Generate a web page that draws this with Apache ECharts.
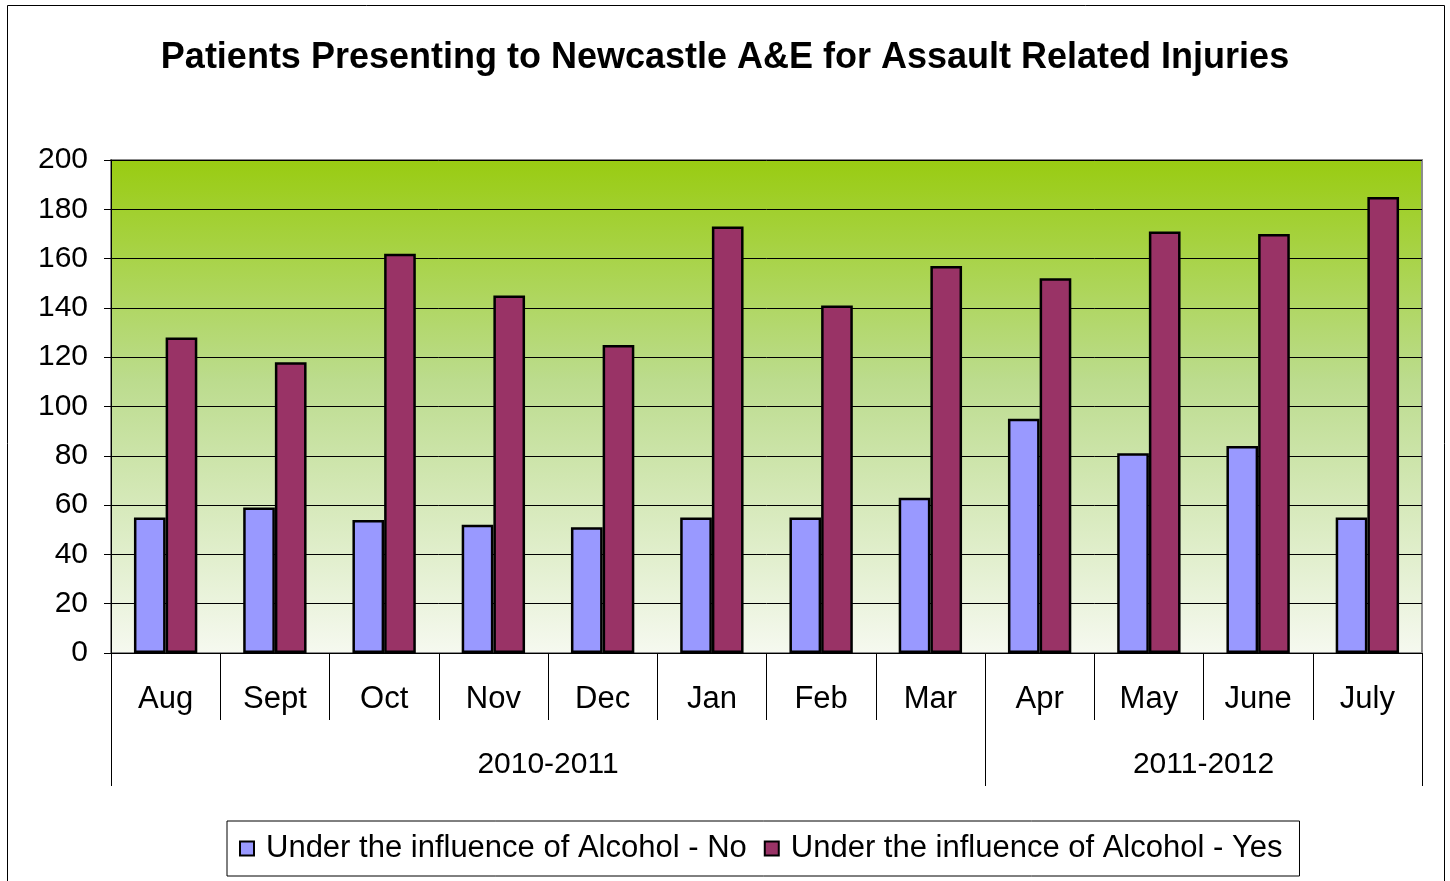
<!DOCTYPE html>
<html>
<head>
<meta charset="utf-8">
<title>Patients Presenting to Newcastle A&amp;E for Assault Related Injuries</title>
<script src="https://cdn.jsdelivr.net/npm/echarts@6/dist/echarts.min.js"></script>
<style>
  html, body { margin: 0; padding: 0; background: #fff; }
  #chart { width: 1450px; height: 881px; }
</style>
</head>
<body>
<div id="chart"></div>
<script>
// Monthly categories and the financial years they belong to
const months = ['Aug', 'Sept', 'Oct', 'Nov', 'Dec', 'Jan', 'Feb', 'Mar', 'Apr', 'May', 'June', 'July'];
const yearLabels = ['2010-2011', '2011-2012'];
const yearSpans = [8, 4]; // number of months in each year group

// Patient counts
const alcoholNo  = [55, 59, 54, 52, 51, 55, 55, 63, 95, 81, 84, 55];
const alcoholYes = [128, 118, 162, 145, 125, 173, 141, 157, 152, 171, 170, 185];

const seriesNames = ['Under the influence of Alcohol - No', 'Under the influence of Alcohol - Yes'];

// y-axis scale
const yMin = 0, yMax = 200, yStep = 20;

// Build a half-month slot axis for the year grouping row:
// slots lie on month boundaries and month centres, so group edges and centres
// can both be addressed.
const slotCount = months.length * 2 + 1;
const yearSlots = new Array(slotCount).fill('');
const yearEdges = new Set([0]);
let start = 0;
yearLabels.forEach((label, i) => {
  const end = start + yearSpans[i];
  yearSlots[start + end] = label;      // centre of the group, in half-months
  yearEdges.add(end * 2);
  start = end;
});

const FONT = "'Liberation Sans', Arial, sans-serif";

const chart = echarts.init(document.getElementById('chart'), null, { renderer: 'canvas' });

chart.setOption({
  animation: false,
  textStyle: { fontFamily: FONT, color: '#000' },
  title: {
    text: 'Patients Presenting to Newcastle A&E for Assault Related Injuries',
    left: 'center',
    top: 35,
    textStyle: { fontFamily: FONT, fontSize: 36, fontWeight: 'bold', color: '#000' }
  },
  graphic: [{
    type: 'rect',
    shape: { x: 7.5, y: 5.5, width: 1437, height: 885 },
    style: { fill: 'none', stroke: '#000', lineWidth: 1 },
    silent: true,
    z: -10
  }],
  legend: {
    data: seriesNames,
    left: 227,
    top: 821,
    orient: 'horizontal',
    icon: 'rect',
    itemWidth: 14,
    itemHeight: 14,
    itemGap: 17,
    padding: [12, 17, 12, 12],
    borderColor: '#000',
    borderWidth: 1,
    textStyle: { fontFamily: FONT, fontSize: 31, color: '#000', padding: [0, 0, 0, 7] }
  },
  grid: {
    left: 111,
    right: 28,
    top: 160,
    bottom: 228,
    show: true,
    borderColor: '#8c8c8c',
    borderWidth: 2,
    backgroundColor: new echarts.graphic.LinearGradient(0, 0, 0, 1, [
      { offset: 0, color: '#99cc11' },
      { offset: 0.45, color: '#bcdc8e' },
      { offset: 1, color: '#f6f9f0' }
    ])
  },
  xAxis: [
    {
      type: 'category',
      data: months,
      position: 'bottom',
      boundaryGap: true,
      axisLine: { show: true, lineStyle: { color: '#000', width: 1 } },
      axisTick: { show: true, length: 67, lineStyle: { color: '#000', width: 1 } },
      axisLabel: { fontFamily: FONT, fontSize: 31, color: '#000', margin: 31, interval: 0 },
      splitLine: { show: false }
    },
    {
      type: 'category',
      data: yearSlots,
      position: 'bottom',
      boundaryGap: false,
      axisLine: { show: false },
      axisTick: {
        show: true,
        length: 133,
        interval: (idx) => yearEdges.has(idx),
        lineStyle: { color: '#000', width: 1 }
      },
      axisLabel: {
        fontFamily: FONT, fontSize: 30, color: '#000', margin: 97,
        interval: (idx, val) => val !== ''
      },
      splitLine: { show: false }
    }
  ],
  yAxis: {
    type: 'value',
    min: yMin,
    max: yMax,
    interval: yStep,
    axisLine: { show: true, lineStyle: { color: '#000', width: 1 } },
    axisTick: { show: true, inside: false, length: 7, lineStyle: { color: '#000' } },
    axisLabel: { fontFamily: FONT, fontSize: 30, color: '#000', margin: 23 },
    splitLine: { show: true, lineStyle: { color: '#000', width: 1 } }
  },
  series: [
    {
      name: seriesNames[0],
      type: 'bar',
      xAxisIndex: 0,
      data: alcoholNo,
      barWidth: '29%',
      barGap: '0%',
      itemStyle: { color: '#9999ff', borderColor: '#000', borderWidth: 2.5 }
    },
    {
      name: seriesNames[1],
      type: 'bar',
      xAxisIndex: 0,
      data: alcoholYes,
      barWidth: '29%',
      barGap: '0%',
      itemStyle: { color: '#993366', borderColor: '#000', borderWidth: 2.5 }
    }
  ]
});
</script>
</body>
</html>
